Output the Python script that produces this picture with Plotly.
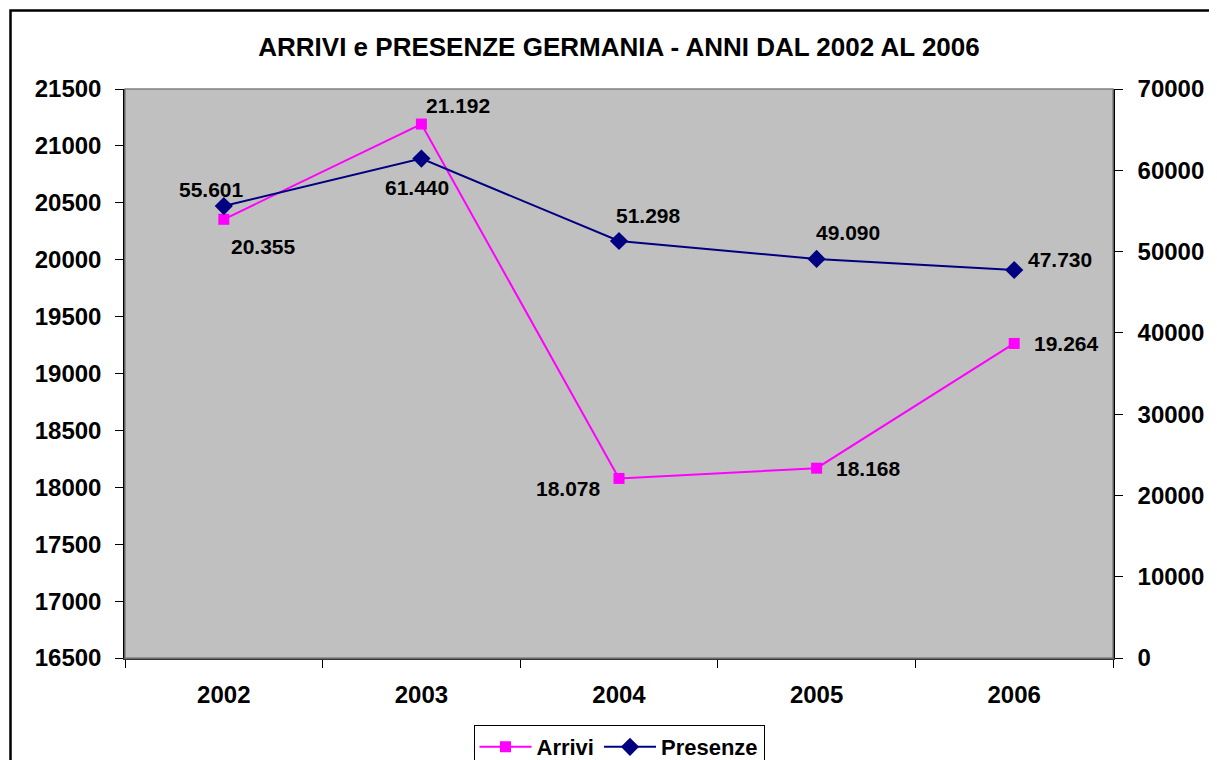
import plotly.graph_objects as go

years = ["2002", "2003", "2004", "2005", "2006"]
arrivi = [20355, 21192, 18078, 18168, 19264]
presenze = [55601, 61440, 51298, 49090, 47730]

title_text = "ARRIVI e PRESENZE GERMANIA - ANNI DAL 2002 AL 2006"

# label offsets (pixels) for data labels
arrivi_shift = [(40, -27), (37, 19), (-51, -10), (52, 0), (52, 0)]
presenze_shift = [(-12, 17), (-4, -29), (29, 26), (31, 26), (46, 11)]

FONT = "Liberation Sans, Arial, sans-serif"


def fmt(v):
    return f"{v:,}".replace(",", ".")


fig = go.Figure()
fig.add_trace(go.Scatter(
    x=years, y=arrivi, name="Arrivi", mode="lines+markers",
    line=dict(color="#FF00FF", width=2),
    marker=dict(symbol="square", size=11, color="#FF00FF"),
    yaxis="y",
))
fig.add_trace(go.Scatter(
    x=years, y=presenze, name="Presenze", mode="lines+markers",
    line=dict(color="#000080", width=2),
    marker=dict(symbol="diamond", size=14, color="#000080"),
    yaxis="y2",
))

lblfont = dict(family=FONT, size=21, color="black", weight="bold")
annotations = []
for i, (v, (dx, dy)) in enumerate(zip(arrivi, arrivi_shift)):
    annotations.append(dict(x=i, y=v, xref="x", yref="y", text=fmt(v),
                            showarrow=False, xshift=dx, yshift=dy, font=lblfont))
for i, (v, (dx, dy)) in enumerate(zip(presenze, presenze_shift)):
    annotations.append(dict(x=i, y=v, xref="x", yref="y2", text=fmt(v),
                            showarrow=False, xshift=dx, yshift=dy, font=lblfont))

# page has an 8px body margin; figure coordinates = page - 8
OFF = 8
W, H = 1217 - OFF, 760 - OFF
L = 125 - OFF
T = 89 - OFF
R = W - (1113 - OFF)
B = H - (658 - OFF)
pw, ph = W - L - R, H - T - B


def px_x(p):
    return (p - OFF - L) / pw


def px_y(p):
    return (H - B - (p - OFF)) / ph


shapes = [
    dict(type="rect", xref="paper", yref="paper", x0=0, x1=1, y0=0, y1=1,
         line=dict(color="#808080", width=1.5), layer="above"),
    dict(type="rect", xref="paper", yref="paper",
         x0=px_x(10.5), x1=px_x(1260), y0=px_y(10.5), y1=px_y(800),
         line=dict(color="black", width=2.5), layer="above"),
]

tickfont = dict(family=FONT, size=24, color="black", weight="bold")

fig.update_layout(
    width=W, height=H,
    margin=dict(l=L, r=R, t=T, b=B, autoexpand=False),
    paper_bgcolor="white",
    plot_bgcolor="#C0C0C0",
    title=dict(text=title_text, x=0.5, xref="paper", y=1 - (47 - OFF) / H,
               yanchor="middle",
               font=dict(family=FONT, size=26, color="black", weight="bold")),
    xaxis=dict(type="category", tickson="boundaries", ticks="outside", ticklen=8,
               tickcolor="black", showline=True, linecolor="#333333", linewidth=2,
               showgrid=False, tickfont=tickfont, ticklabelstandoff=14,
               range=[-0.5, 4.5]),
    yaxis=dict(range=[16500, 21500], dtick=500, tickformat="d", ticks="outside",
               ticklen=8, tickcolor="black", showline=True, linecolor="black",
               linewidth=1.5, showgrid=False, zeroline=False, tickfont=tickfont,
               ticklabelstandoff=9),
    yaxis2=dict(range=[0, 70000], dtick=10000, tickformat="d", overlaying="y",
                side="right", ticks="outside", ticklen=8, tickcolor="black",
                showline=True, linecolor="black", linewidth=1.5, showgrid=False,
                zeroline=False, tickfont=tickfont, ticklabelstandoff=10),
    showlegend=True,
    legend=dict(orientation="h", x=0.5, xanchor="center", y=px_y(725), yanchor="top",
                bgcolor="white", bordercolor="black", borderwidth=1,
                tracegroupgap=0, itemwidth=52,
                font=dict(family=FONT, size=22, color="black", weight="bold")),
    annotations=annotations,
    shapes=shapes,
)

fig.write_html("out.html")
